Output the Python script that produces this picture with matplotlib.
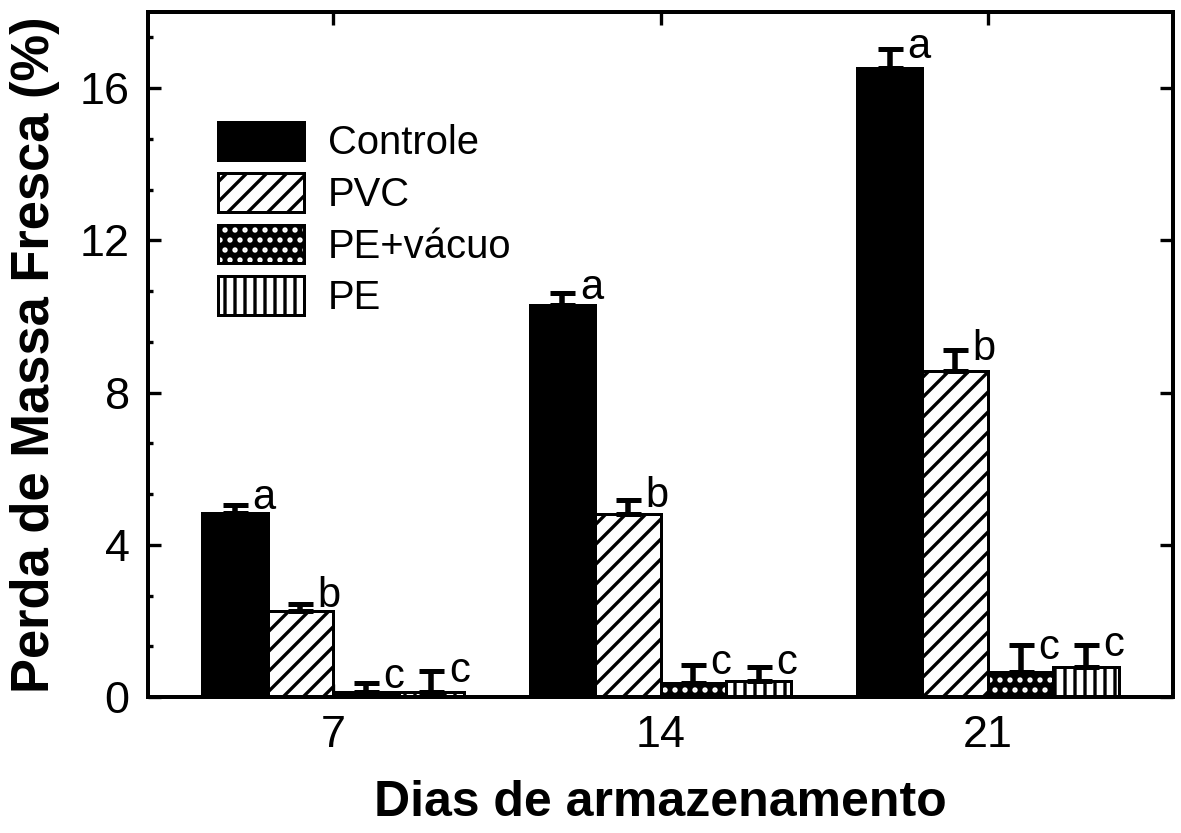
import matplotlib
matplotlib.use("Agg")
import matplotlib.pyplot as plt
from matplotlib.ticker import MultipleLocator, FixedLocator
import numpy as np

plt.rcParams['font.family'] = ['Liberation Sans', 'DejaVu Sans']
plt.rcParams['hatch.linewidth'] = 2.0

# ---- data ----
days = ['7', '14', '21']
series_names = ['Controle', 'PVC', 'PE+vácuo', 'PE']
controle = [4.83, 10.30, 16.52]
pvc = [2.26, 4.81, 8.57]
pe_vacuo = [0.12, 0.37, 0.65]
pe = [0.12, 0.42, 0.80]
controle_err = [0.21, 0.32, 0.52]
pvc_err = [0.19, 0.37, 0.55]
pe_vacuo_err = [0.25, 0.47, 0.71]
pe_err = [0.56, 0.37, 0.57]
controle_letters = ['a', 'a', 'a']
pvc_letters = ['b', 'b', 'b']
pe_vacuo_letters = ['c', 'c', 'c']
pe_letters = ['c', 'c', 'c']

DPI = 120
fig = plt.figure(figsize=(1181 / DPI, 833 / DPI), dpi=DPI)
ax = fig.add_axes([148 / 1181, (833 - 697) / 833, (1173 - 148) / 1181, (697 - 12) / 833])

x = np.arange(len(days))
w = 0.2
offsets = [-1.5 * w, -0.5 * w, 0.5 * w, 1.5 * w]
edge_lw = 1.8

b1 = ax.bar(x + offsets[0], controle, w, color='black', edgecolor='black', linewidth=edge_lw, zorder=2)
b2 = ax.bar(x + offsets[1], pvc, w, color='white', edgecolor='black', linewidth=edge_lw, hatch='//', zorder=2)
b3 = ax.bar(x + offsets[2], pe_vacuo, w, color='black', edgecolor='black', linewidth=edge_lw, zorder=2)
b3d = ax.bar(x + offsets[2], pe_vacuo, w, facecolor='none', edgecolor='white', linewidth=0, hatch='..', zorder=2.1)
b3o = ax.bar(x + offsets[2], pe_vacuo, w, facecolor='none', edgecolor='black', linewidth=edge_lw, zorder=2.2)
b4 = ax.bar(x + offsets[3], pe, w, color='white', edgecolor='black', linewidth=edge_lw, hatch='||', zorder=2)

all_vals = [controle, pvc, pe_vacuo, pe]
all_errs = [controle_err, pvc_err, pe_vacuo_err, pe_err]
all_letters = [controle_letters, pvc_letters, pe_vacuo_letters, pe_letters]
for off, vals, errs, lets in zip(offsets, all_vals, all_errs, all_letters):
    xs = x + off
    ax.errorbar(xs, vals, yerr=[np.zeros(len(vals)), errs], fmt='none', ecolor='black',
                elinewidth=3.3, capsize=7.5, capthick=3.0, zorder=3)
    for xi, v, e, l in zip(xs, vals, errs, lets):
        ax.annotate(l, (xi, v + e / 2), xytext=(10.5, 0), textcoords='offset points',
                    ha='left', va='baseline', fontsize=25, zorder=4)

ax.set_xlim(-0.565, 2.565)
ax.set_ylim(0, 18)
ax.set_xticks(x)
ax.set_xticklabels(days)
ax.yaxis.set_major_locator(FixedLocator([0, 4, 8, 12, 16]))
ax.yaxis.set_minor_locator(MultipleLocator(4 / 3))

for s in ax.spines.values():
    s.set_linewidth(2.4)

ax.tick_params(axis='both', which='major', direction='in', length=8, width=2.0,
               labelsize=27, pad=11, top=True, right=True)
ax.tick_params(axis='y', which='minor', direction='in', length=3, width=2.0, left=True, right=False)
ax.tick_params(axis='x', which='minor', bottom=False, top=False)

ax.set_ylabel('Perda de Massa Fresca (%)', fontsize=31.5, fontweight='bold', labelpad=12)
ax.set_xlabel('Dias de armazenamento', fontsize=30, fontweight='bold', labelpad=14)

handles = [b1[0], b2[0], (b3[0], b3d[0], b3o[0]), b4[0]]
leg = ax.legend(handles, series_names, loc='upper left', bbox_to_anchor=(0.068, 0.840),
                frameon=False, fontsize=24, handlelength=2.15, handleheight=1.1,
                labelspacing=0.27, handletextpad=0.6, borderpad=0, borderaxespad=0)

fig.savefig('out.png', dpi=DPI)
